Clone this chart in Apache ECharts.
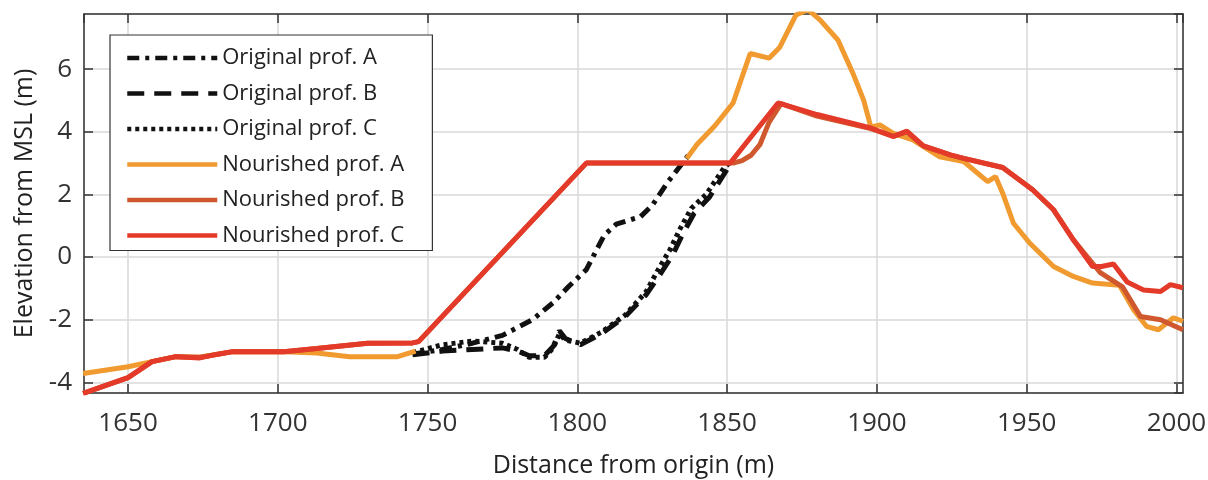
<!DOCTYPE html>
<html>
<head>
<meta charset="utf-8">
<script src="https://cdn.jsdelivr.net/npm/echarts@6/dist/echarts.min.js"></script>
<style>
html, body { margin: 0; padding: 0; background: #fff; }
#app { width: 1208px; height: 480px; }
</style>
</head>
<body>
<div id="app"></div>
<script>
// profiles: [distance (m), elevation (m)]
const origA = [[1745, -3.1], [1755, -2.95], [1765, -2.75], [1775, -2.5], [1785, -2.0], [1792, -1.45],
	[1797, -0.95], [1803, -0.4], [1806, 0.15], [1809, 0.7], [1813, 1.05], [1818, 1.2], [1821, 1.28],
	[1825, 1.65], [1830, 2.37], [1836.7, 3.2], [1838, 3.4]];
const origB = [[1745, -3.12], [1755, -3.0], [1765, -2.95], [1775, -2.9], [1780, -3.0], [1784, -3.15],
	[1789, -3.15], [1792, -2.85], [1794, -2.35], [1796, -2.6], [1801, -2.8], [1808, -2.45], [1816, -1.9],
	[1823, -1.2], [1828, -0.5], [1832, 0.1], [1835, 0.7], [1839, 1.4], [1844, 1.9], [1850, 2.8], [1852, 3.05]];
const origC = [[1745, -3.05], [1755, -2.8], [1765, -2.68], [1775, -2.75], [1780, -2.95], [1784, -3.2],
	[1789, -3.2], [1792, -2.9], [1794, -2.45], [1796, -2.65], [1801, -2.75], [1808, -2.4], [1816, -1.85],
	[1823, -1.1], [1827, -0.4], [1831, 0.25], [1834, 0.85], [1838, 1.55], [1843, 2.0], [1849, 2.85], [1851, 3.02]];
const nourA = [[1635, -3.72], [1650, -3.5], [1658, -3.34], [1666, -3.18], [1674, -3.2], [1685, -3.02],
	[1702, -3.02], [1713, -3.06], [1724, -3.18], [1740, -3.18], [1746, -3.0], [1790, '-'],
	[1836.5, 3.15], [1840, 3.6], [1846, 4.2], [1852, 4.92], [1857.7, 6.5], [1864, 6.35], [1867.6, 6.7],
	[1873, 7.73], [1877, 7.9], [1881, 7.57], [1887, 6.93], [1892, 5.87], [1895.6, 5.0], [1898, 4.15],
	[1901, 4.22], [1905.5, 3.95], [1912, 3.74], [1921, 3.2], [1929, 3.05], [1937, 2.41], [1939.6, 2.57],
	[1942, 2.04], [1945.6, 1.08], [1951, 0.45], [1959, -0.3], [1965.6, -0.62], [1972, -0.83],
	[1981, -0.9], [1985.7, -1.68], [1990, -2.21], [1994, -2.32], [1999, -1.94], [2002.2, -2.05]];
const nourB = [[1635, -4.35], [1650, -3.85], [1658, -3.34], [1666, -3.18], [1674, -3.2], [1685, -3.02],
	[1702, -3.02], [1713, -2.92], [1730, -2.75], [1745, -2.74], [1747, -2.7], [1803, 3.0], [1852, 3.0],
	[1855, 3.08], [1858, 3.25], [1861, 3.6], [1864, 4.3], [1868, 4.9], [1880, 4.5], [1898, 4.1],
	[1905.5, 3.85], [1910, 4.0], [1915.5, 3.55], [1924.5, 3.26], [1929, 3.15], [1942, 2.86], [1952, 2.15],
	[1959, 1.51], [1965.6, 0.55], [1974.6, -0.5], [1982, -0.95], [1988, -1.9], [1994.7, -2.0],
	[2002.2, -2.32]];
const nourC = [[1635, -4.35], [1650, -3.85], [1658, -3.34], [1666, -3.18], [1674, -3.22], [1680, -3.1],
	[1685, -3.02], [1702, -3.02], [1713, -2.92], [1730, -2.75], [1745, -2.74], [1747, -2.7], [1803, 3.0],
	[1851, 3.0], [1867, 4.92], [1880, 4.55], [1898, 4.12], [1905.5, 3.85], [1910, 4.02], [1915.5, 3.55],
	[1924.5, 3.26], [1929, 3.15], [1942, 2.86], [1952, 2.15], [1959, 1.51], [1965.6, 0.55], [1972, -0.3],
	[1975, -0.3], [1979, -0.22], [1983.6, -0.8], [1989, -1.05], [1994.7, -1.1], [1998, -0.88],
	[2002.2, -0.98]];

const names = ['Original prof. A', 'Original prof. B', 'Original prof. C',
	'Nourished prof. A', 'Nourished prof. B', 'Nourished prof. C'];
const colors = ['#111', '#111', '#111', '#f09a30', '#d0582f', '#e43a29'];
const dashes = [[12, 6, 4, 6], [17, 10], [4, 4], 'solid', 'solid', 'solid'];
const profiles = [origA, origB, origC, nourA, nourB, nourC];

const font = 'Open Sans';
const xMin = 1635.3, xMax = 2002.2, yMin = -4.34, yMax = 7.76;

let chart = echarts.init(document.getElementById('app'), null, { renderer: 'canvas' });

const series = profiles.map((d, i) => ({
	name: names[i],
	type: 'line',
	data: d,
	showSymbol: false,
	symbol: 'none',
	connectNulls: false,
	animation: false,
	color: colors[i],
	lineStyle: {
		color: colors[i],
		width: 5,
		type: dashes[i],
		cap: 'butt'
	}
}));

const axisCommon = {
	axisTick: { inside: true, length: 9, lineStyle: { color: '#333', width: 1.5 } }
};

chart.setOption({
	backgroundColor: '#fff',
	textStyle: { fontFamily: font },
	grid: { left: 84, right: 25, top: 14, bottom: 87, outerBoundsMode: 'none' },
	legend: {
		orient: 'vertical',
		left: 110,
		top: 35,
		padding: [12, 28, 4, 15],
		backgroundColor: '#fff',
		borderColor: '#333',
		borderWidth: 1.2,
		borderRadius: 0,
		itemWidth: 90,
		itemHeight: 20,
		itemGap: 13.5,
		lineStyle: { width: 4.5 },
		itemStyle: { opacity: 0 },
		textStyle: { fontFamily: font, fontSize: 22, color: '#222', lineHeight: 20 },
		data: names
	},
	xAxis: [{
		type: 'value',
		min: xMin,
		max: xMax,
		splitNumber: 8,
		minInterval: 50,
		maxInterval: 50,
		name: 'Distance from origin (m)',
		nameLocation: 'middle',
		nameGap: 60,
		nameTextStyle: { fontFamily: font, fontSize: 25, color: '#222' },
		axisLine: { onZero: false, lineStyle: { color: '#333', width: 1.5 } },
		axisLabel: {
			fontFamily: font, fontSize: 26, color: '#333', margin: 18,
			showMinLabel: false, showMaxLabel: false,
			formatter: v => (v % 50 === 0 ? String(v) : '')
		},
		splitLine: { show: true, lineStyle: { color: '#d8d8d8', width: 1.5 } },
		...axisCommon
	}, {
		type: 'value',
		position: 'top',
		min: xMin,
		max: xMax,
		splitNumber: 8,
		minInterval: 50,
		maxInterval: 50,
		axisLine: { onZero: false, lineStyle: { color: '#333', width: 1.5 } },
		axisLabel: { show: false },
		splitLine: { show: false },
		...axisCommon
	}],
	yAxis: [{
		type: 'value',
		min: yMin,
		max: yMax,
		splitNumber: 6,
		minInterval: 2,
		maxInterval: 2,
		name: 'Elevation from MSL (m)',
		nameLocation: 'middle',
		nameGap: 46,
		nameTextStyle: { fontFamily: font, fontSize: 25, color: '#222' },
		axisLine: { onZero: false, lineStyle: { color: '#333', width: 1.5 } },
		axisLabel: {
			fontFamily: font, fontSize: 26, color: '#333', margin: 12,
			showMinLabel: false, showMaxLabel: false,
			formatter: v => (v % 2 === 0 ? String(v) : '')
		},
		splitLine: { show: true, lineStyle: { color: '#d8d8d8', width: 1.5 } },
		...axisCommon
	}, {
		type: 'value',
		position: 'right',
		min: yMin,
		max: yMax,
		splitNumber: 6,
		minInterval: 2,
		maxInterval: 2,
		axisLine: { onZero: false, lineStyle: { color: '#333', width: 1.5 } },
		axisLabel: { show: false },
		splitLine: { show: false },
		...axisCommon
	}],
	series: series
});
</script>
</body>
</html>
